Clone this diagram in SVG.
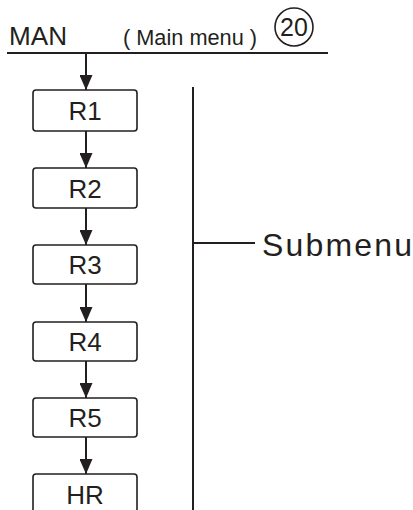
<svg xmlns="http://www.w3.org/2000/svg" width="413" height="510" viewBox="0 0 413 510">
<style>
.ln{stroke:#231f20;stroke-width:2;fill:none}
.box{fill:#fff;stroke:#231f20;stroke-width:1.6}
.t{font-family:"Liberation Sans",Arial,sans-serif;fill:#231f20}
.bt{font-size:26px;text-anchor:middle}
</style>
<defs>
<marker id="ah" viewBox="0 0 15 13" refX="15" refY="6.5" markerWidth="15" markerHeight="13" markerUnits="userSpaceOnUse" orient="auto">
<path d="M0,0 L15,6.5 L0,13 Z" fill="#231f20"/>
</marker>
</defs>
<g id="header">
<text class="t" x="9" y="45" font-size="25" textLength="58" lengthAdjust="spacingAndGlyphs">MAN</text>
<text class="t" x="123" y="45" font-size="22" textLength="134" lengthAdjust="spacingAndGlyphs">( Main menu )</text>
<circle cx="294" cy="27" r="19" fill="none" stroke="#231f20" stroke-width="1.6"/>
<text class="t" x="294" y="36" font-size="25" text-anchor="middle">20</text>
<line class="ln" x1="7" y1="53" x2="328" y2="53"/>
</g>
<g id="connectors">
<line class="ln" x1="86" y1="53" x2="86" y2="90" marker-end="url(#ah)"/>
<line class="ln" x1="86" y1="131" x2="86" y2="168" marker-end="url(#ah)"/>
<line class="ln" x1="86" y1="208" x2="86" y2="245" marker-end="url(#ah)"/>
<line class="ln" x1="86" y1="284" x2="86" y2="322" marker-end="url(#ah)"/>
<line class="ln" x1="86" y1="361" x2="86" y2="398" marker-end="url(#ah)"/>
<line class="ln" x1="86" y1="437" x2="86" y2="474" marker-end="url(#ah)"/>
</g>
<g id="R1"><rect class="box" x="33" y="90" width="104" height="41" rx="3"/><text class="t bt" x="85" y="120">R1</text></g>
<g id="R2"><rect class="box" x="33" y="168" width="104" height="40" rx="3"/><text class="t bt" x="85" y="197.5">R2</text></g>
<g id="R3"><rect class="box" x="33" y="245" width="104" height="39" rx="3"/><text class="t bt" x="85" y="274">R3</text></g>
<g id="R4"><rect class="box" x="33" y="322" width="104" height="39" rx="3"/><text class="t bt" x="85" y="351">R4</text></g>
<g id="R5"><rect class="box" x="33" y="398" width="104" height="39" rx="3"/><text class="t bt" x="85" y="427">R5</text></g>
<g id="HR"><rect class="box" x="33" y="474" width="104" height="40" rx="3"/><text class="t bt" x="85" y="504">HR</text></g>
<g id="submenu">
<line class="ln" x1="193" y1="87" x2="193" y2="510"/>
<line class="ln" x1="193" y1="243" x2="255" y2="243" stroke-width="1.6"/>
<text class="t" x="262" y="256" font-size="32" textLength="150" lengthAdjust="spacing">Submenu</text>
</g>
</svg>
